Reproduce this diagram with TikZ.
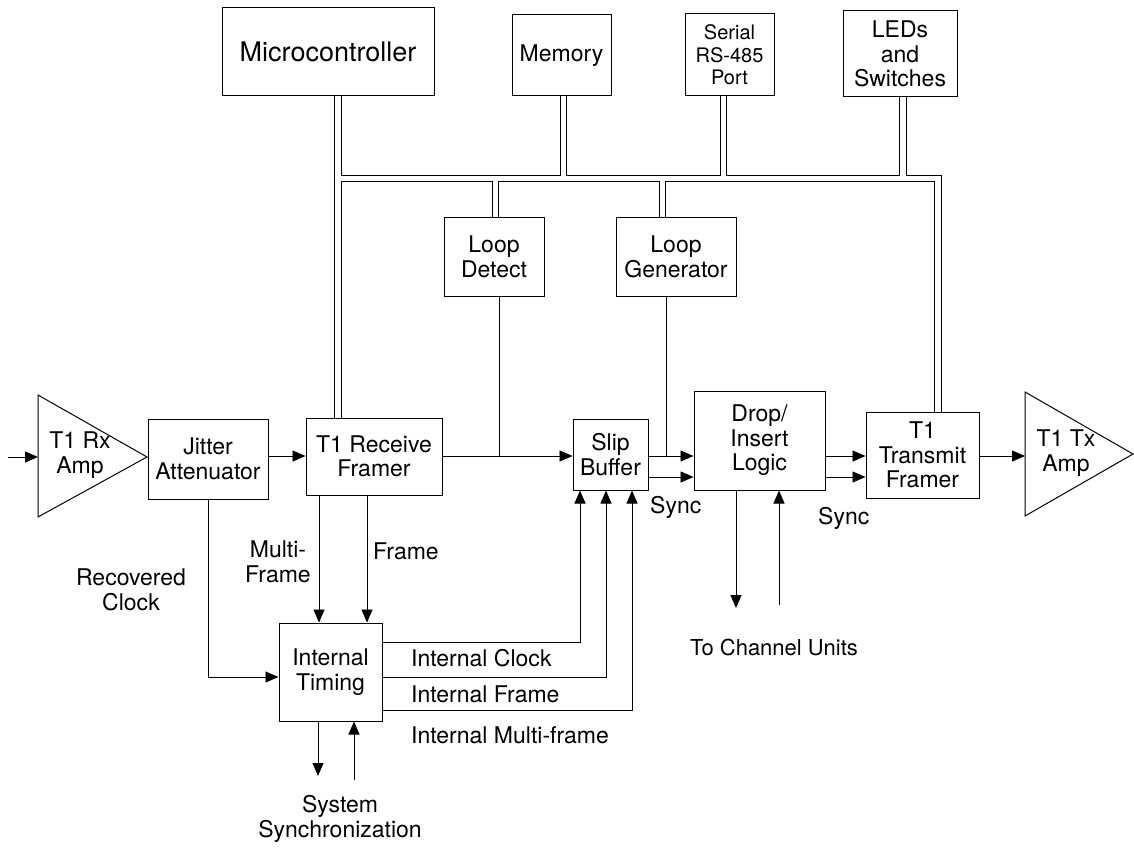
\documentclass[tikz,border=0pt]{standalone}
\usepackage{fontspec}
\setmainfont{TeX Gyre Heros}
\usetikzlibrary{arrows.meta,backgrounds,calc}
\begin{document}
\begin{tikzpicture}[x=1pt,y=-1pt,
  box/.style={draw, line width=1pt, align=center, inner sep=0pt, font=\fontsize{23}{24.5}\selectfont},
  lbl/.style={align=center, inner sep=0pt, font=\fontsize{23}{24.5}\selectfont},
  sig/.style={line width=0.9pt},
  arr/.style={sig, -{Triangle[length=13pt,width=11pt]}},
  bus/.style={draw=black, line width=0.9pt, double=white, double distance=5.4pt, line join=miter},
  amp/.style={draw, line width=1pt}]
\useasboundingbox (0,0) rectangle (1134,850);

% top row
\node[box, minimum width=212pt, minimum height=88pt, font=\fontsize{27}{28}\selectfont] (micro) at (328,52) {Microcontroller};
\node[box, minimum width=99pt, minimum height=81pt] (mem) at (561.5,55.5) {Memory};
\node[box, minimum width=89pt, minimum height=82pt, font=\fontsize{20}{22.5}\selectfont] (ser) at (729.5,55) {Serial\\RS-485\\Port};
\node[box, minimum width=114pt, minimum height=86pt] (led) at (900,54) {LEDs\\and\\Switches};

% loop blocks
\node[box, minimum width=100pt, minimum height=78pt] (ld) at (494,257) {Loop\\Detect};
\node[box, minimum width=120pt, minimum height=78pt] (lg) at (676,257) {Loop\\Generator};

% main chain
\node[box, minimum width=120pt, minimum height=80pt] (jitter) at (208,459) {Jitter\\Attenuator};
\node[box, minimum width=136pt, minimum height=77pt] (rxf) at (374,456.5) {T1 Receive\\Framer};
\node[box, minimum width=75pt, minimum height=71pt] (slip) at (610.5,454.5) {Slip\\Buffer};
\node[box, minimum width=131pt, minimum height=99pt] (di) at (759.5,440.5) {Drop/\\Insert\\Logic};
\node[box, minimum width=113pt, minimum height=86pt] (tf) at (922.5,455) {T1\\Transmit\\Framer};
\node[box, minimum width=103pt, minimum height=98pt] (it) at (330.5,672) {Internal\\Timing};

% amplifiers
\draw[amp] (38,395) -- (38,517) -- (147,457) -- cycle;
\node[lbl] (rxamp) at (80,455) {T1 Rx\\Amp};
\coordinate (rxin) at (38,457);
\coordinate (src) at (8,457);
\draw[amp] (1025,392) -- (1025,516) -- (1133,454) -- cycle;
\node[lbl] (txamp) at (1066,453) {T1 Tx\\Amp};
\coordinate (txin) at (1025,456);

% bus coordinates
\coordinate (busy) at (0,178.5);
\coordinate (bmic) at ($(micro.south)+(10,0)$);
\coordinate (bmem) at ($(mem.south)+(2,0)$);
\coordinate (bser) at ($(ser.south)+(-6,0)$);
\coordinate (bled) at ($(led.south)+(3,0)$);
\coordinate (bld) at ($(ld.north)+(1.5,0)$);
\coordinate (blg) at ($(lg.north)+(-13.5,0)$);
\coordinate (btf) at ($(tf.north)+(15.5,0)$);

\begin{scope}[on background layer]
\draw[bus]
  (bmic) -- (bmic |- rxf.north)
  (bmic |- busy) -- (btf |- busy) -- (btf)
  (bmem) -- (bmem |- busy)
  (bser) -- (bser |- busy)
  (bled) -- (bled |- busy)
  (bld) -- (bld |- busy)
  (blg) -- (blg |- busy);
\end{scope}

% signal rows
\coordinate (r1) at (0,456);
\coordinate (r2) at (0,477);
\draw[arr] (src) -- (rxin);
\draw[arr] (jitter.east |- r1) -- (rxf.west |- r1);
\draw[arr] (rxf.east |- r1) -- (slip.west |- r1);
\draw[sig] ([xshift=5pt]ld.south) -- ([xshift=5pt]ld.south |- r1);
\draw[arr] (slip.east |- r1) -- (di.west |- r1);
\draw[arr] (slip.east |- r2) -- (di.west |- r2);
\draw[sig] ([xshift=-10pt]lg.south) -- ([xshift=-10pt]lg.south |- r1);
\draw[arr] (di.east |- r1) -- (tf.west |- r1);
\draw[arr] (di.east |- r2) -- (tf.west |- r2);
\draw[arr] (tf.east |- r1) -- (txin);

% framer to timing
\draw[arr] ([xshift=-55pt]rxf.south) -- ([xshift=-55pt]rxf.south |- it.north);
\draw[arr] ([xshift=-7pt]rxf.south) -- ([xshift=-7pt]rxf.south |- it.north);
\draw[arr] (jitter.south) |- ([yshift=-5pt]it.west);

% internal timing to slip buffer
\draw[arr] ([yshift=30pt]it.east) -| ([xshift=-30.5pt]slip.south);
\draw[arr] ([yshift=-5pt]it.east) -| ([xshift=-4.5pt]slip.south);
\draw[arr] ([yshift=-38pt]it.east) -| ([xshift=21.5pt]slip.south);

% system sync
\coordinate (sysout) at (318,776);
\coordinate (sysin) at (354,780);
\draw[arr] ([xshift=-12.5pt]it.south) -- (sysout);
\draw[arr] (sysin) -- (sysin |- it.south);

% channel units
\coordinate (chout) at (736,608);
\coordinate (chin) at (779,605);
\draw[arr] ([xshift=-23.5pt]di.south) -- (chout);
\draw[arr] (chin) -- (chin |- di.south);

% labels
\node[lbl] (lrec) at (131,590) {Recovered\\Clock};
\node[lbl] (lmulti) at (278,562) {Multi-\\Frame};
\node[lbl, anchor=west] (lframe) at (373,551) {Frame};
\node[lbl, anchor=west] (lic) at (411,658) {Internal Clock};
\node[lbl, anchor=west] (lif) at (411,694) {Internal Frame};
\node[lbl, anchor=west] (limf) at (411,735) {Internal Multi-frame};
\node[lbl, anchor=west] (sync1) at (650,507) {Sync};
\node[lbl, anchor=west] (sync2) at (818,518) {Sync};
\node[lbl, font=\fontsize{22}{24}\selectfont] (tcu) at (774,647) {To Channel Units};
\node[lbl] (sys) at (340,819) {System\\Synchronization};
\end{tikzpicture}
\end{document}
